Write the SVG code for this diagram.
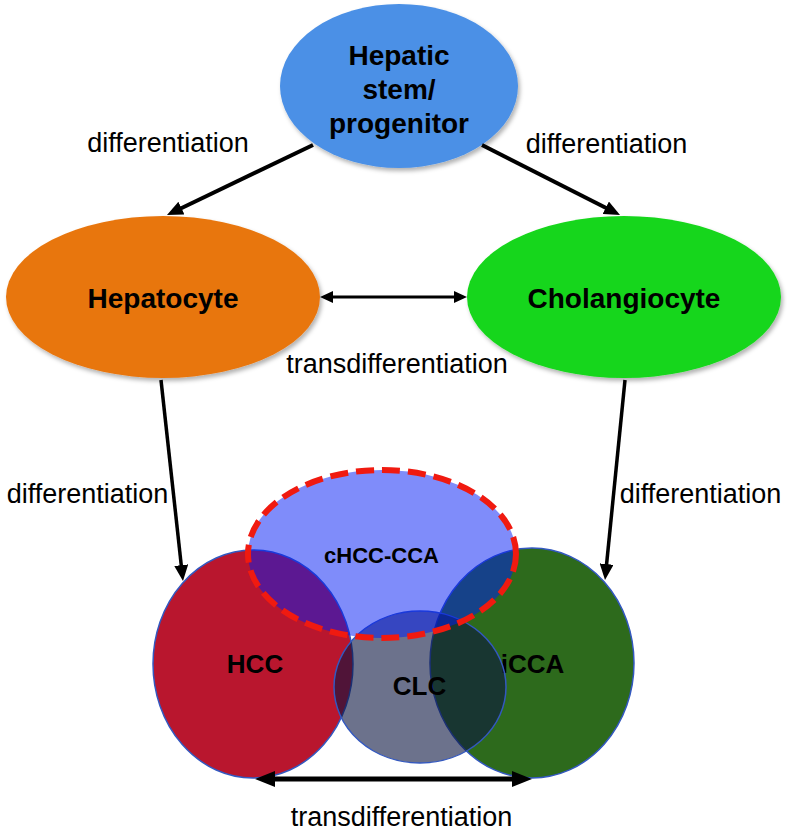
<svg xmlns="http://www.w3.org/2000/svg" width="787" height="832" viewBox="0 0 787 832">
  <style>
    .lbl { font-family: "Liberation Sans", Arial, Helvetica, sans-serif; font-size: 27px; fill: #000; text-anchor: middle; }
    .node { font-family: "Liberation Sans", Arial, Helvetica, sans-serif; font-weight: bold; font-size: 28px; fill: #000; text-anchor: middle; }
    .venn { font-family: "Liberation Sans", Arial, Helvetica, sans-serif; font-weight: bold; font-size: 26px; fill: #000; text-anchor: middle; }
    .conn { stroke: #000; fill: none; }
    .circ { stroke: #3358C0; stroke-width: 1.5; }
  </style>
  <defs>
    <filter id="shadow" x="-10%" y="-10%" width="125%" height="130%">
      <feDropShadow dx="2" dy="3" stdDeviation="2" flood-color="#000" flood-opacity="0.3"/>
    </filter>
    <marker id="mArrow" markerUnits="userSpaceOnUse" markerWidth="16" markerHeight="14" refX="6" refY="7" orient="auto-start-reverse">
      <path d="M0,0 L16,7 L0,14 z" fill="#000"/>
    </marker>
    <marker id="mSmall" markerUnits="userSpaceOnUse" markerWidth="13" markerHeight="12" refX="5" refY="6" orient="auto-start-reverse">
      <path d="M0,0 L13,6 L0,12 z" fill="#000"/>
    </marker>
    <marker id="mBig" markerUnits="userSpaceOnUse" markerWidth="20" markerHeight="16" refX="8" refY="8" orient="auto-start-reverse">
      <path d="M0,0 L20,8 L0,16 z" fill="#000"/>
    </marker>
  </defs>

  <rect width="787" height="832" fill="#fff"/>

  <g id="stem">
    <ellipse cx="399" cy="86" rx="119" ry="82" fill="#4B90E6" filter="url(#shadow)"/>
    <text class="node" x="399" y="65">Hepatic</text>
    <text class="node" x="399" y="99">stem/</text>
    <text class="node" x="399" y="133">progenitor</text>
  </g>

  <g id="hepatocyte">
    <ellipse cx="163" cy="297" rx="157" ry="81" fill="#E8760F" filter="url(#shadow)"/>
    <text class="node" x="163" y="308">Hepatocyte</text>
  </g>

  <g id="cholangiocyte">
    <ellipse cx="624" cy="297" rx="157" ry="81" fill="#14D61A" filter="url(#shadow)"/>
    <text class="node" x="624" y="308">Cholangiocyte</text>
  </g>

  <g id="hcc">
    <ellipse class="circ" cx="253" cy="664" rx="100" ry="114" fill="#B9162E"/>
    <text class="venn" x="255" y="673">HCC</text>
  </g>

  <g id="icca">
    <ellipse class="circ" cx="532" cy="663" rx="102" ry="115" fill="#2D6A1C"/>
    <text class="venn" x="532.5" y="673">iCCA</text>
  </g>

  <g id="clc">
    <ellipse class="circ" cx="420" cy="687" rx="86" ry="76" fill="#0A1440" fill-opacity="0.6"/>
    <text class="venn" x="419.5" y="695">CLC</text>
  </g>

  <g id="chcc-cca">
    <ellipse cx="382" cy="554" rx="134" ry="84" fill="#0019F5" fill-opacity="0.5" stroke="#F01A10" stroke-width="6" stroke-dasharray="18 8"/>
    <text class="venn" x="381.5" y="563" style="font-size:22px">cHCC-CCA</text>
  </g>

  <g id="connectors">
    <line class="conn" x1="313" y1="145" x2="176" y2="210.7" stroke-width="4" marker-end="url(#mArrow)"/>
    <line class="conn" x1="482" y1="145" x2="611.1" y2="210.5" stroke-width="4" marker-end="url(#mArrow)"/>
    <line class="conn" x1="328" y1="297" x2="459" y2="297" stroke-width="3" marker-start="url(#mSmall)" marker-end="url(#mSmall)"/>
    <line class="conn" x1="161" y1="380" x2="181.9" y2="571.1" stroke-width="3.5" marker-end="url(#mArrow)"/>
    <line class="conn" x1="625" y1="380" x2="606" y2="570" stroke-width="3.5" marker-end="url(#mArrow)"/>
    <line class="conn" x1="267" y1="779" x2="520" y2="779" stroke-width="5" marker-start="url(#mBig)" marker-end="url(#mBig)"/>
  </g>

  <g id="labels">
    <text class="lbl" x="168" y="152">differentiation</text>
    <text class="lbl" x="606.5" y="153">differentiation</text>
    <text class="lbl" x="397" y="373">transdifferentiation</text>
    <text class="lbl" x="87.5" y="503">differentiation</text>
    <text class="lbl" x="700.5" y="503">differentiation</text>
    <text class="lbl" x="401.5" y="826">transdifferentiation</text>
  </g>
</svg>
